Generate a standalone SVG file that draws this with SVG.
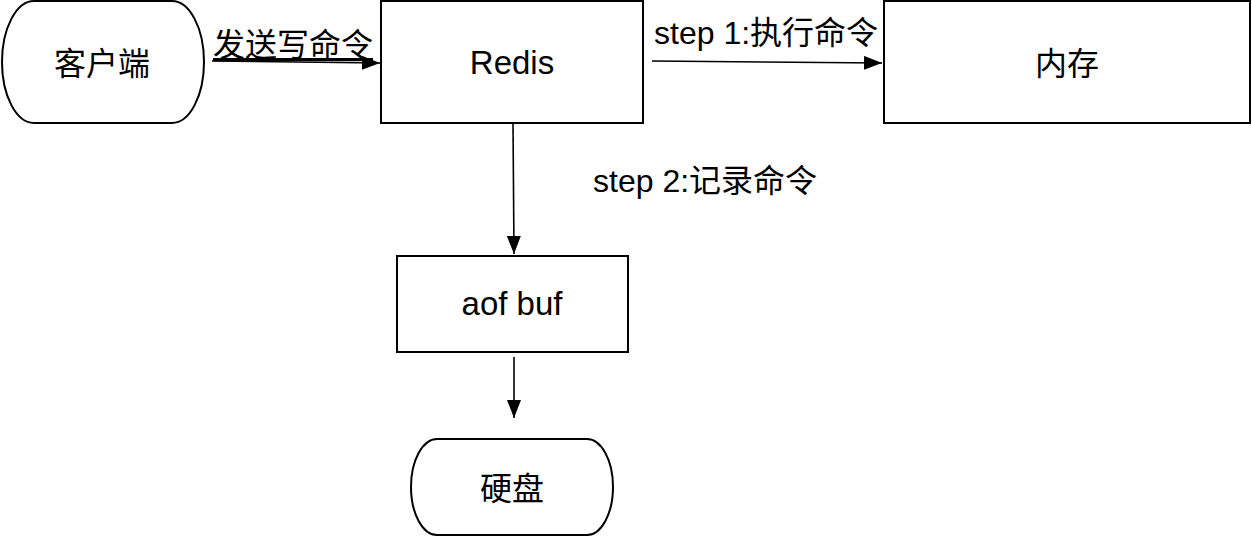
<svg xmlns="http://www.w3.org/2000/svg" width="1252" height="536" viewBox="0 0 1252 536">
<defs>
<style>
.box{fill:#ffffff;stroke:#000000;stroke-width:2}
.t{font-family:"Liberation Sans","Noto Sans CJK SC",sans-serif;font-size:32px;fill:#000000}
.c{text-anchor:middle}
.conn{stroke:#000000;stroke-width:1.6;fill:none;marker-end:url(#arr)}
</style>
<marker id="arr" markerUnits="userSpaceOnUse" markerWidth="20" markerHeight="16" refX="18" refY="7" orient="auto">
<path d="M0,0 L18,7 L0,14 Z" fill="#000000"/>
</marker>
</defs>
<rect width="1252" height="536" fill="#ffffff"/>
<g id="client">
<rect class="box" x="2" y="1" width="202" height="122" rx="32" ry="61"/>
<text class="t c" x="102" y="75">客户端</text>
</g>
<g id="redis">
<rect class="box" x="381" y="1" width="262" height="122"/>
<text class="t c" x="512" y="74" style="font-size:33px">Redis</text>
</g>
<g id="memory">
<rect class="box" x="884" y="1" width="366" height="122"/>
<text class="t c" x="1067" y="75">内存</text>
</g>
<g id="aofbuf">
<rect class="box" x="397" y="256" width="231" height="96"/>
<text class="t c" x="512" y="315" style="font-size:33px">aof buf</text>
</g>
<g id="disk">
<rect class="box" x="411" y="439" width="202" height="96" rx="26" ry="48"/>
<text class="t c" x="512" y="500">硬盘</text>
</g>
<g id="connectors">
<line class="conn" x1="212" y1="61" x2="380" y2="63"/>
<line class="conn" x1="652" y1="61" x2="882" y2="63"/>
<line class="conn" x1="513" y1="123" x2="514" y2="254"/>
<line class="conn" x1="514" y1="357" x2="514" y2="418"/>
<text class="t" x="213" y="56" text-decoration="underline">发送写命令</text>
<text class="t" x="654" y="44">step 1:执行命令</text>
<text class="t" x="593" y="192">step 2:记录命令</text>
</g>
</svg>
